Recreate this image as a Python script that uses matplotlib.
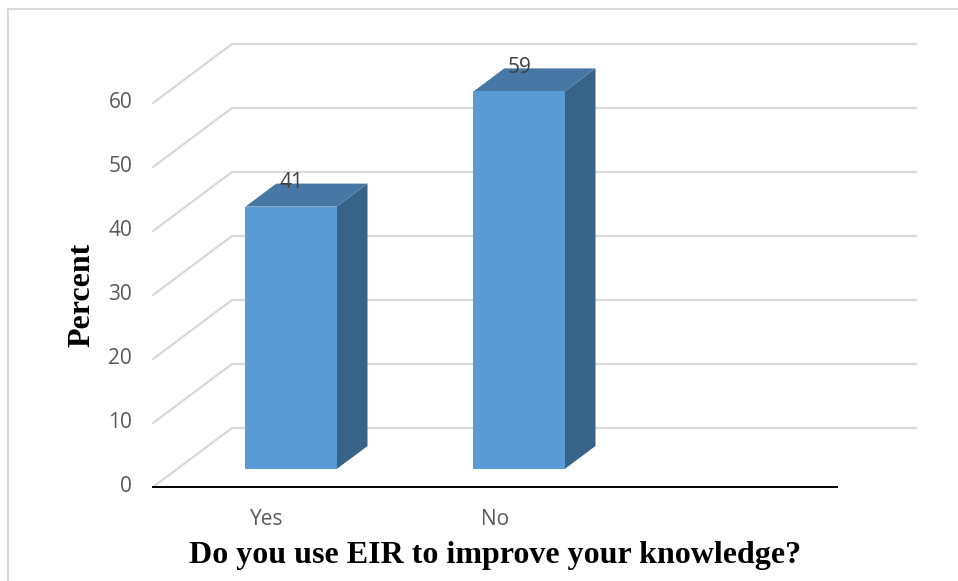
import numpy as np
import matplotlib.pyplot as plt
from matplotlib.patches import Polygon

categories = ['Yes', 'No', '']
values = [41, 59]
yticks = [0, 10, 20, 30, 40, 50, 60]

W, H = 958, 581
fig = plt.figure(figsize=(W / 100, H / 100), dpi=100)

# front plane of the 3d box, in pixels
left, right, base, top = 153, 837, 487, 103
ax = fig.add_axes([left / W, (H - base) / H, (right - left) / W, (base - top) / H])
ax.set_xlim(-0.5, len(categories) - 0.5)
ax.set_ylim(0, 60)
ax.axis('off')

DX, DY = 79, 59          # depth offset of the back wall (px)
d0, d1 = 0.305, 0.695    # bar depth range
bw = 0.4                 # bar width


def proj(x, v, d):
    p = ax.transData.transform((x, v)) + np.array([DX * d, DY * d])
    return ax.transData.inverted().transform(p)


grid_c = '#d9d9d9'
x0, x1 = -0.5, len(categories) - 0.5
for v in yticks:
    a = proj(x0, v, 0)
    b = proj(x0, v, 1)
    c = proj(x1, v, 1)
    ax.plot([a[0], b[0], c[0]], [a[1], b[1], c[1]], color=grid_c, lw=1.6,
            clip_on=False, zorder=1)
    ax.annotate(str(v), a, xytext=(-15, 0), textcoords='offset points',
                ha='right', va='center', fontsize=15, color='#595959',
                family='Open Sans', annotation_clip=False)

# category axis
ax.plot([x0, x1], [0, 0], color='black', lw=1.4, clip_on=False, zorder=2)
for i, cat in enumerate(categories):
    ax.annotate(cat, (i, 0), xytext=(0, -23.5), textcoords='offset points',
                ha='center', va='center', fontsize=15, color='#595959',
                family='Open Sans', annotation_clip=False)

front_c, top_c, side_c = '#5b9bd5', '#4677a5', '#386388'
for i, v in enumerate(values):
    l, r = i - bw / 2, i + bw / 2
    front = [proj(l, 0, d0), proj(r, 0, d0), proj(r, v, d0), proj(l, v, d0)]
    side = [proj(r, 0, d0), proj(r, 0, d1), proj(r, v, d1), proj(r, v, d0)]
    topf = [proj(l, v, d0), proj(r, v, d0), proj(r, v, d1), proj(l, v, d1)]
    for pts, col in [(side, side_c), (topf, top_c), (front, front_c)]:
        ax.add_patch(Polygon(pts, closed=True, facecolor=col, edgecolor='none',
                             clip_on=False, zorder=3))
    ax.annotate(str(v), proj(i, v, d0), xytext=(0, 17.5), textcoords='offset points',
                ha='center', va='center', fontsize=15, color='#404040',
                family='Open Sans', annotation_clip=False, zorder=4)

fig.text(82 / W, 1 - 295 / H, 'Percent', rotation=90, ha='center', va='center',
         fontsize=23, fontweight='bold', family='Liberation Serif')
fig.text(495 / W, 1 - 556 / H, 'Do you use EIR to improve your knowledge?',
         ha='center', va='center', fontsize=23, fontweight='bold',
         family='Liberation Serif')

# chart area border (left and top visible)
fig.add_artist(plt.Line2D([8 / W, 8 / W, 1], [0, 1 - 9 / H, 1 - 9 / H],
                          color='#d9d9d9', lw=1.5))

fig.savefig('out.png', dpi=100)
